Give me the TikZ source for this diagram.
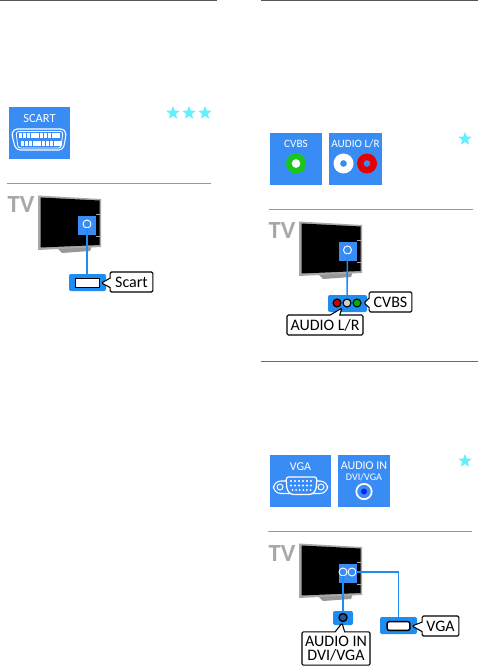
\documentclass[tikz,border=0pt]{standalone}
\usepackage{fontspec}
\setmainfont{Carlito}
\usetikzlibrary{shapes.geometric,shapes.callouts}
\definecolor{pblue}{HTML}{3A8CF5}
\definecolor{cable}{HTML}{1E8CF0}
\definecolor{starc}{HTML}{66EEFF}
\definecolor{rulec}{HTML}{999999}
\definecolor{toprule}{HTML}{555555}
\definecolor{tvgray}{HTML}{A8A8A8}
\tikzset{
  panel/.style={fill=pblue,draw=none,inner sep=0,minimum width=#1},
  ptext/.style={text=white,inner sep=0,font=\fontsize{8.4}{9}\selectfont,align=center},
  starmark/.style={star,star points=5,star point ratio=2.3,fill=starc,draw=none,inner sep=0,minimum size=10.5pt},
  hrule/.style={draw=rulec,line width=0.75pt},
  topline/.style={draw=toprule,line width=1pt},
  cableline/.style={draw=cable,line width=1.2pt},
  portbox/.style={fill=cable,draw=none,rounded corners=1.5pt},
  tvport/.style={circle,draw=white,line width=0.7pt,fill=pblue,inner sep=0,minimum size=6pt},
  calloutlbl/.style={rectangle callout,draw=black,fill=white,line width=0.8pt,rounded corners=1pt,inner sep=0,font=\fontsize{12}{13}\selectfont,align=center},
  tvlabel/.style={text=tvgray,inner sep=0,font=\fontsize{18.5}{20}\selectfont\bfseries}
}
\newcommand{\tvpic}[3]{%
  \begin{scope}[shift={(#1,#2)}]
    \node[tvlabel] at (21,205) {TV};
    \fill[tvgray!90!black] (56,247) -- (92,245) -- (90,251) -- (62,253) -- cycle;
    \fill[tvgray] (38,195.5) -- (101,199) -- (101,247) -- (38,250) -- cycle;
    \fill[black] (40.5,197.5) -- (99.5,200.5) -- (99.5,245) -- (40.5,247.5) -- cycle;
    \draw[tvgray,line width=0.5pt] (96,214) -- (100,214) -- (100,236) -- (96,236);
    #3
  \end{scope}}
\begin{document}
\begin{tikzpicture}[x=0.75pt,y=-0.75pt]
\useasboundingbox (0,0) rectangle (478,666);
\fill[white] (0,0) rectangle (478,666);
% top rules
\coordinate (t1) at (0,0.5); \coordinate (t2) at (217,0.5);
\coordinate (t3) at (261,0.5); \coordinate (t4) at (478,0.5);
\draw[topline] (t1) -- (t2);
\draw[topline] (t3) -- (t4);
% SCART panel
\fill[pblue] (9,107) rectangle (70,159);
\node[ptext,font=\fontsize{9.3}{9}\selectfont] (scartt) at (39.5,118.5) {SCART};
\draw[white,line width=0.8pt,rounded corners=3pt] (13,129) -- (65,129) -- (66,136) -- (63,150) -- (16,150) -- (12,136) -- cycle;
\draw[white,line width=0.6pt,rounded corners=2pt] (16,131.5) -- (63,131.5) -- (61,148) -- (18,148) -- cycle;
\foreach \i in {0,...,9} {\fill[white] (18.5+4.2*\i,133) rectangle +(3.4,5);}
\foreach \i in {0,...,9} {\fill[white] (20.5+4.2*\i,141) rectangle +(3.4,5);}
\node[starmark] (s1) at (173,113) {};
\node[starmark] (s2) at (189,113) {};
\node[starmark] (s3) at (205,113) {};
\coordinate (r1a) at (7,183.5); \coordinate (r1b) at (211,183.5);
\draw[hrule] (r1a) -- (r1b);
% TV 1
\tvpic{0}{0}{\fill[pblue] (78,216) rectangle (96,235);}
\node[tvport] (p1) at (87,224) {};
\fill[portbox] (69,274) rectangle (106,291);
\node[fill=white,draw=black,line width=0.5pt,inner sep=0,minimum width=18pt,minimum height=6.6pt] (j1) at (87,282.5) {};
\draw[cableline] (p1) -- (j1);
\node[calloutlbl,minimum width=32pt,minimum height=15pt,callout absolute pointer={(101.5,283)}] (l1) at (131.5,282) {Scart};
% right column: CVBS
\fill[pblue] (270,133) rectangle (322,185);
\fill[pblue] (329,133) rectangle (382,185);
\node[ptext] (cv) at (296,144) {CVBS};
\node[ptext] (au) at (355.5,144) {AUDIO L/R};
\node[circle,fill=green!75!black!90,draw=none,inner sep=0,minimum size=15pt] at (296,163.5) {};
\node[circle,fill=white,inner sep=0,minimum size=6.5pt] at (296,163.5) {};
\node[circle,fill=white,inner sep=0,minimum size=15pt] at (343.5,163.5) {};
\node[circle,fill=pblue,inner sep=0,minimum size=5pt] at (343.5,163.5) {};
\node[circle,fill=red!90!black,inner sep=0,minimum size=15pt] at (367,163.5) {};
\node[circle,fill=pblue,inner sep=0,minimum size=5pt] at (367,163.5) {};
\node[starmark] (s4) at (465,139) {};
\coordinate (r2a) at (269,209.7); \coordinate (r2b) at (473,209.7);
\draw[hrule] (r2a) -- (r2b);
\tvpic{261}{26}{\fill[pblue] (78,216) rectangle (96,235);}
\node[tvport] (p2) at (347.5,250) {};
\fill[portbox] (328,295) rectangle (367,312);
\node[circle,fill=red!80!black,draw=black,line width=0.8pt,inner sep=0,minimum size=6pt] (a1) at (337,303) {};
\node[circle,fill=gray!40,draw=black,line width=0.8pt,inner sep=0,minimum size=6pt] (a2) at (347,303) {};
\node[circle,fill=green!70!black,draw=black,line width=0.8pt,inner sep=0,minimum size=6pt] (a3) at (357,303) {};
\draw[cableline] (p2) -- (a2);
\node[calloutlbl,minimum width=32pt,minimum height=15pt,callout absolute pointer={(364,303)}] (l2) at (390.5,302) {CVBS};
\node[calloutlbl,minimum width=57pt,minimum height=15pt,callout absolute pointer={(342,308)}] (l3) at (325,325) {AUDIO L/R};
% section rule
\coordinate (r3a) at (261,361.5); \coordinate (r3b) at (478,361.5);
\draw[topline,draw=rulec!70!black] (r3a) -- (r3b);
% VGA
\fill[pblue] (270,455) rectangle (331,507);
\fill[pblue] (338,455) rectangle (390,507);
\node[ptext,font=\fontsize{9}{9}\selectfont] (vg) at (300.5,466.5) {VGA};
\node[ptext,font=\fontsize{9}{8}\selectfont] (ai) at (364,466) {AUDIO IN};
\node[ptext,font=\fontsize{7.6}{8}\selectfont] (dv) at (364,477) {DVI/VGA};
% VGA connector: ears, then body on top
\draw[white,line width=0.8pt,rounded corners=5.5pt] (273.5,481) rectangle (327.5,493.5);
\draw[white,line width=0.7pt] (280,487) circle (3);
\draw[white,line width=0.7pt] (321,487) circle (3);
\draw[white,fill=pblue,line width=0.9pt,rounded corners=2pt] (286,477) -- (317,477) -- (316,490) -- (312,494.5) -- (291,494.5) -- (287,490) -- cycle;
\foreach \i in {0,...,5} {\fill[white] (291+4*\i,481) circle (1.1);\fill[white] (291+4*\i,485.5) circle (1.1);\fill[white] (292.5+3.6*\i,490) circle (1);}
\node[circle,draw=white,fill=pblue,line width=1.3pt,inner sep=0,minimum size=11.5pt] (jk) at (364,491.5) {};
\fill[blue!75!pblue] (jk.center) circle (3);
\node[starmark] (s5) at (465,461) {};
\coordinate (r4a) at (268,531.7); \coordinate (r4b) at (472,531.7);
\draw[hrule] (r4a) -- (r4b);
\tvpic{261}{348}{\fill[pblue] (78,216) rectangle (96,235);}
\node[tvport] (p3) at (343,572) {};
\node[tvport] (p4) at (352,572) {};
\fill[portbox] (333,611) rectangle (353,625);
\node[circle,fill=pblue!60!black,draw=black,line width=1pt,inner sep=0,minimum size=6pt] (j3) at (343,617.5) {};
\fill[portbox] (380,617) rectangle (417,634);
\node[draw=black,fill=white,line width=1.1pt,rounded corners=1.5pt,inner sep=0,minimum width=17pt,minimum height=6.5pt] (j4) at (398.5,626) {};
\coordinate (bend) at (398.5,572);
\draw[cableline] (p3) -- (j3);
\draw[cableline] (p4) -- (bend) -- (j4);
\node[calloutlbl,minimum width=51pt,minimum height=25pt,callout absolute pointer={(342,623)}] (l4) at (336,648.5) {AUDIO IN\\[-2pt]DVI/VGA};
\node[calloutlbl,minimum width=27.5pt,minimum height=15pt,callout absolute pointer={(412,626)}] (l5) at (440.5,626) {VGA};
\end{tikzpicture}
\end{document}
